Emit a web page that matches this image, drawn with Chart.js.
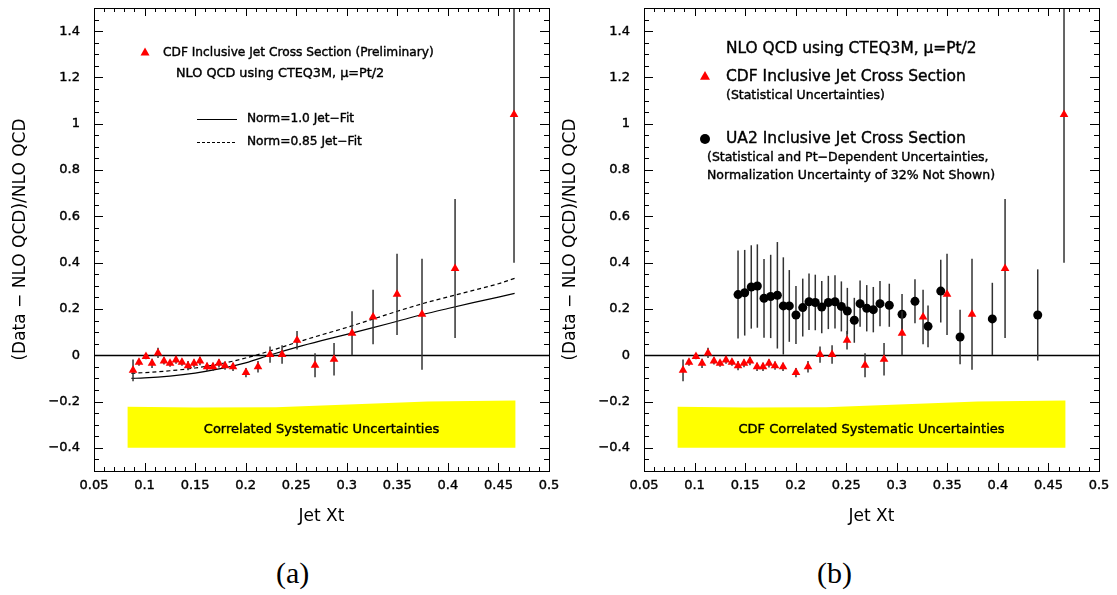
<!DOCTYPE html>
<html>
<head>
<meta charset="utf-8">
<title>CDF / UA2 Jet Xt</title>
<script src="https://cdn.jsdelivr.net/npm/chart.js@4.4.1/dist/chart.umd.min.js"></script>
<style>
  body { margin: 0; background: #fff; width: 1117px; height: 595px; position: relative; overflow: hidden; }
  canvas { position: absolute; top: 0; }
  #panel-a { left: 0; }
  #panel-b { left: 550px; }
  .cap { position: absolute; top: 556px; font: 30px "Liberation Serif", serif; color: #000; }
</style>
</head>
<body>
<canvas id="panel-a" width="560" height="540"></canvas>
<canvas id="panel-b" width="567" height="540"></canvas>
<div class="cap" style="left:276px">(a)</div>
<div class="cap" style="left:817px">(b)</div>
<script>
// ── Datos: CDF (triángulos rojos), mismos en ambos paneles ──
const cdfX   = [0.0886, 0.0945, 0.1014, 0.1074, 0.1133, 0.1192, 0.1252, 0.1311, 0.137, 0.143,
                0.1489, 0.1548, 0.1618, 0.1677, 0.1736, 0.1796, 0.1875, 0.2003, 0.2122, 0.2241,
                0.236, 0.2508, 0.2686, 0.2874, 0.3052, 0.326, 0.3497, 0.3744, 0.4071, 0.4654];
const cdfY   = [-0.065, -0.03, -0.005, -0.035, 0.01, -0.025, -0.035, -0.02, -0.03, -0.045,
                -0.035, -0.025, -0.05, -0.05, -0.035, -0.045, -0.05, -0.075, -0.05, 0.003,
                0.003, 0.065, -0.043, -0.017, 0.095, 0.165, 0.263, 0.177, 0.375, 1.04];
const cdfErr = [0.047, 0.015, 0.012, 0.02, 0.022, 0.015, 0.015, 0.017, 0.015, 0.02,
                0.017, 0.018, 0.018, 0.018, 0.018, 0.018, 0.018, 0.02, 0.025, 0.035,
                0.04, 0.04, 0.052, 0.07, 0.095, 0.118, 0.175, 0.24, 0.3, 0.64];

// ── Datos: UA2 (círculos negros), panel b ──
const ua2X   = [0.143, 0.1496, 0.1561, 0.1621, 0.1687, 0.1753, 0.1819, 0.1878, 0.1937, 0.2003,
                0.207, 0.2132, 0.2194, 0.2258, 0.2323, 0.2389, 0.2452, 0.2511, 0.258, 0.2637,
                0.2703, 0.2768, 0.2834, 0.2926, 0.3052, 0.318, 0.3309, 0.3435, 0.3626, 0.3945, 0.4394];
const ua2Y   = [0.262, 0.27, 0.295, 0.299, 0.246, 0.254, 0.259, 0.213, 0.213, 0.174,
                0.206, 0.231, 0.228, 0.208, 0.228, 0.231, 0.211, 0.191, 0.151, 0.223,
                0.203, 0.197, 0.223, 0.216, 0.177, 0.233, 0.125, 0.277, 0.079, 0.157, 0.174];
const ua2Err = [0.19, 0.185, 0.18, 0.18, 0.17, 0.18, 0.23, 0.21, 0.155, 0.125,
                0.125, 0.122, 0.12, 0.113, 0.115, 0.115, 0.108, 0.1, 0.097, 0.1,
                0.1, 0.098, 0.098, 0.093, 0.088, 0.095, 0.09, 0.135, 0.118, 0.156, 0.197];

// ── Curvas NLO (panel a) ──
const fitX       = [0.087, 0.1, 0.125, 0.15, 0.175, 0.2, 0.225, 0.25, 0.275, 0.3, 0.325, 0.35, 0.375, 0.4, 0.425, 0.45, 0.466];
const fitNorm100 = [-0.1, -0.098, -0.09, -0.077, -0.058, -0.033, 0.002, 0.034, 0.063, 0.09, 0.118, 0.147, 0.176, 0.202, 0.227, 0.251, 0.267];
const fitNorm085 = [-0.078, -0.075, -0.067, -0.055, -0.037, -0.012, 0.02, 0.055, 0.088, 0.12, 0.155, 0.19, 0.223, 0.252, 0.28, 0.309, 0.332];

// ── Banda de sistemáticos correlacionados ──
const bandX      = [0.083, 0.15, 0.23, 0.38, 0.467];
const bandTop    = [-0.222, -0.226, -0.225, -0.2, -0.196];
const bandBottom = -0.4;

// ── Ejes ──
const xTicks      = [0.05, 0.1, 0.15, 0.2, 0.25, 0.3, 0.35, 0.4, 0.45, 0.5];
const xTickLabels = ['0.05', '0.1', '0.15', '0.2', '0.25', '0.3', '0.35', '0.4', '0.45', '0.5'];
const yTicks      = [-0.4, -0.2, 0, 0.2, 0.4, 0.6, 0.8, 1, 1.2, 1.4];
const yTickLabels = ['\u22120.4', '\u22120.2', '0', '0.2', '0.4', '0.6', '0.8', '1', '1.2', '1.4'];

const FAM = '"DejaVu Sans", sans-serif';
const TRAZO = 0.4; // engrosa un poco el texto, como la fuente del original
const pares = (xs, ys) => xs.map((x, i) => ({ x, y: ys[i] }));

function texto(ctx, s, x, y) {
  ctx.fillText(s, x, y);
  ctx.lineWidth = TRAZO;
  ctx.strokeText(s, x, y);
}

// ── Plugins ──
const barras = {
  id: 'barras',
  beforeDatasetDraw(chart, args) {
    const ds = chart.data.datasets[args.index];
    if (!ds.errores) return;
    const { ctx, chartArea: a, scales: { x, y } } = chart;
    ctx.save();
    ctx.beginPath(); ctx.rect(a.left, a.top, a.width, a.height); ctx.clip();
    ctx.strokeStyle = '#333'; ctx.lineWidth = 1.5;
    ds.data.forEach((p, i) => {
      const px = x.getPixelForValue(p.x);
      ctx.beginPath();
      ctx.moveTo(px, y.getPixelForValue(p.y - ds.errores[i]));
      ctx.lineTo(px, y.getPixelForValue(p.y + ds.errores[i]));
      ctx.stroke();
    });
    ctx.restore();
  }
};

const marco = {
  id: 'marco',
  beforeDatasetsDraw(chart) {
    const { ctx, chartArea: a, scales: { y } } = chart;
    const y0 = Math.round(y.getPixelForValue(0)) + 0.5;
    ctx.save();
    ctx.strokeStyle = '#000'; ctx.lineWidth = 1.3;
    ctx.beginPath(); ctx.moveTo(a.left, y0); ctx.lineTo(a.right, y0); ctx.stroke();
    ctx.restore();
  },
  afterDraw(chart) {
    const { ctx, chartArea: a, scales: { x, y } } = chart;
    ctx.save();
    ctx.strokeStyle = '#000'; ctx.lineWidth = 1;
    ctx.strokeRect(Math.round(a.left) + 0.5, Math.round(a.top) + 0.5, Math.round(a.width), Math.round(a.height));
    ctx.beginPath();
    // ticks de x cada 0.01, mayores cada 0.05
    for (let k = 0; k <= 45; k++) {
      const px = Math.round(x.getPixelForValue(0.05 + k * 0.01)) + 0.5;
      const len = k % 5 === 0 ? 8 : 4;
      ctx.moveTo(px, a.bottom); ctx.lineTo(px, a.bottom - len);
      ctx.moveTo(px, a.top);    ctx.lineTo(px, a.top + len);
    }
    // ticks de y cada 0.05, mayores cada 0.2
    for (let k = 0; k <= 40; k++) {
      const py = Math.round(y.getPixelForValue(-0.5 + k * 0.05)) + 0.5;
      const len = (k - 2) % 4 === 0 ? 9 : 5;
      ctx.moveTo(a.left, py);  ctx.lineTo(a.left + len, py);
      ctx.moveTo(a.right, py); ctx.lineTo(a.right - len, py);
    }
    ctx.stroke();

    // texto dentro de la banda amarilla
    const opt = chart.options.plugins.marco;
    ctx.fillStyle = '#000';
    ctx.font = '13px ' + FAM;
    ctx.textAlign = 'center'; ctx.textBaseline = 'middle';
    const cx = x.getPixelForValue((bandX[0] + bandX[bandX.length - 1]) / 2);
    texto(ctx, opt.textoBanda, cx, y.getPixelForValue(-0.322));
    ctx.restore();
  }
};

const notas = {
  id: 'notas',
  afterDraw(chart) {
    const items = chart.options.plugins.notas.items;
    const ctx = chart.ctx;
    ctx.save();
    ctx.fillStyle = '#000'; ctx.strokeStyle = '#000';
    ctx.textAlign = 'left'; ctx.textBaseline = 'middle';
    items.forEach(it => {
      if (it.t === 'txt') {
        ctx.font = it.size + 'px ' + FAM;
        texto(ctx, it.s, it.x, it.y);
      } else if (it.t === 'tri') {
        ctx.fillStyle = '#ff0000';
        ctx.beginPath();
        ctx.moveTo(it.x, it.y - it.r); ctx.lineTo(it.x + it.r, it.y + it.r * 0.75); ctx.lineTo(it.x - it.r, it.y + it.r * 0.75);
        ctx.closePath(); ctx.fill();
        ctx.fillStyle = '#000';
      } else if (it.t === 'dot') {
        ctx.beginPath(); ctx.arc(it.x, it.y, it.r, 0, Math.PI * 2); ctx.fill();
      } else if (it.t === 'lin') {
        ctx.lineWidth = 1.2;
        ctx.setLineDash(it.dash || []);
        ctx.beginPath(); ctx.moveTo(it.x1, it.y); ctx.lineTo(it.x2, it.y); ctx.stroke();
        ctx.setLineDash([]);
      }
    });
    ctx.restore();
  }
};

// ── Config común ──
function escalas() {
  const tickFont = { family: FAM, size: 13 };
  return {
    x: {
      type: 'linear', min: 0.05, max: 0.5,
      afterBuildTicks: s => { s.ticks = xTicks.map(v => ({ value: v })); },
      afterFit: s => { s.height = 69; s.paddingLeft = 0; s.paddingRight = 0; },
      ticks: { callback: (v, i) => xTickLabels[i], color: '#000', font: tickFont, padding: 7, maxRotation: 0, autoSkip: false,
               textStrokeColor: '#000', textStrokeWidth: TRAZO },
      grid: { display: false, drawTicks: false },
      border: { display: false },
      title: { display: true, text: 'Jet Xt', color: '#000', font: { family: FAM, size: 17 }, padding: { top: 0, bottom: 13 } },
    },
    y: {
      type: 'linear', min: -0.5, max: 1.5,
      afterBuildTicks: s => { s.ticks = yTicks.map(v => ({ value: v })); },
      afterFit: s => { s.width = 94; s.paddingTop = 0; s.paddingBottom = 0; },
      ticks: { callback: (v, i) => yTickLabels[i], color: '#000', font: tickFont, padding: 14, autoSkip: false,
               textStrokeColor: '#000', textStrokeWidth: TRAZO },
      grid: { display: false, drawTicks: false },
      border: { display: false },
      title: { display: true, text: '(Data \u2212 NLO QCD)/NLO QCD', color: '#000', font: { family: FAM, size: 17 }, padding: { top: 10, bottom: 0 } },
    },
  };
}

function dsCDF() {
  return {
    type: 'scatter', data: pares(cdfX, cdfY), errores: cdfErr,
    pointStyle: 'triangle', pointRadius: 5, backgroundColor: '#ff0000', borderColor: '#ff0000', borderWidth: 0,
  };
}

function dsBanda() {
  return {
    type: 'line', data: pares(bandX, bandTop),
    fill: { value: bandBottom }, backgroundColor: '#ffff00', borderWidth: 0, pointRadius: 0, tension: 0,
  };
}

const comunes = (padRight) => ({
  responsive: false, animation: false, devicePixelRatio: 1,
  layout: { padding: { top: 8, right: padRight, left: 0, bottom: 0 } },
  scales: escalas(),
});

// ── Panel (a) ──
new Chart(document.getElementById('panel-a'), {
  data: {
    datasets: [
      dsCDF(),
      { type: 'line', data: pares(fitX, fitNorm100), borderColor: '#000', borderWidth: 1.2, pointRadius: 0, cubicInterpolationMode: 'monotone', fill: false },
      { type: 'line', data: pares(fitX, fitNorm085), borderColor: '#000', borderWidth: 1.2, borderDash: [4, 3], pointRadius: 0, cubicInterpolationMode: 'monotone', fill: false },
      dsBanda(),
    ],
  },
  options: {
    ...comunes(11),
    plugins: {
      legend: { display: false }, tooltip: { enabled: false },
      marco: { textoBanda: 'Correlated Systematic Uncertainties' },
      notas: { items: [
        { t: 'tri', x: 145, y: 52, r: 4.5 },
        { t: 'txt', s: 'CDF Inclusive Jet Cross Section (Preliminary)', x: 163, y: 53, size: 12.2 },
        { t: 'txt', s: 'NLO QCD using CTEQ3M, \u03bc=Pt/2', x: 176, y: 74, size: 12.8 },
        { t: 'lin', x1: 197, x2: 237, y: 119.5 },
        { t: 'txt', s: 'Norm=1.0 Jet\u2212Fit', x: 247, y: 119, size: 12.2 },
        { t: 'lin', x1: 197, x2: 237, y: 142.5, dash: [3, 2] },
        { t: 'txt', s: 'Norm=0.85 Jet\u2212Fit', x: 247, y: 142, size: 12.2 },
      ] },
    },
  },
  plugins: [barras, marco, notas],
});

// ── Panel (b) ──
new Chart(document.getElementById('panel-b'), {
  data: {
    datasets: [
      dsCDF(),
      { type: 'scatter', data: pares(ua2X, ua2Y), errores: ua2Err, pointStyle: 'circle', pointRadius: 4.5, backgroundColor: '#000', borderColor: '#000', borderWidth: 0 },
      dsBanda(),
    ],
  },
  options: {
    ...comunes(18),
    plugins: {
      legend: { display: false }, tooltip: { enabled: false },
      marco: { textoBanda: 'CDF Correlated Systematic Uncertainties' },
      notas: { items: [
        { t: 'txt', s: 'NLO QCD using CTEQ3M, \u03bc=Pt/2', x: 176, y: 49, size: 15.4 },
        { t: 'tri', x: 155, y: 76, r: 5 },
        { t: 'txt', s: 'CDF Inclusive Jet Cross Section', x: 176, y: 77, size: 15.5 },
        { t: 'txt', s: '(Statistical Uncertainties)', x: 176, y: 96, size: 12.5 },
        { t: 'dot', x: 155, y: 139, r: 5 },
        { t: 'txt', s: 'UA2 Inclusive Jet Cross Section', x: 176, y: 139, size: 15.5 },
        { t: 'txt', s: '(Statistical and Pt\u2212Dependent Uncertainties,', x: 157, y: 158, size: 12.5 },
        { t: 'txt', s: 'Normalization Uncertainty of 32% Not Shown)', x: 157, y: 176, size: 12.5 },
      ] },
    },
  },
  plugins: [barras, marco, notas],
});
</script>
</body>
</html>
